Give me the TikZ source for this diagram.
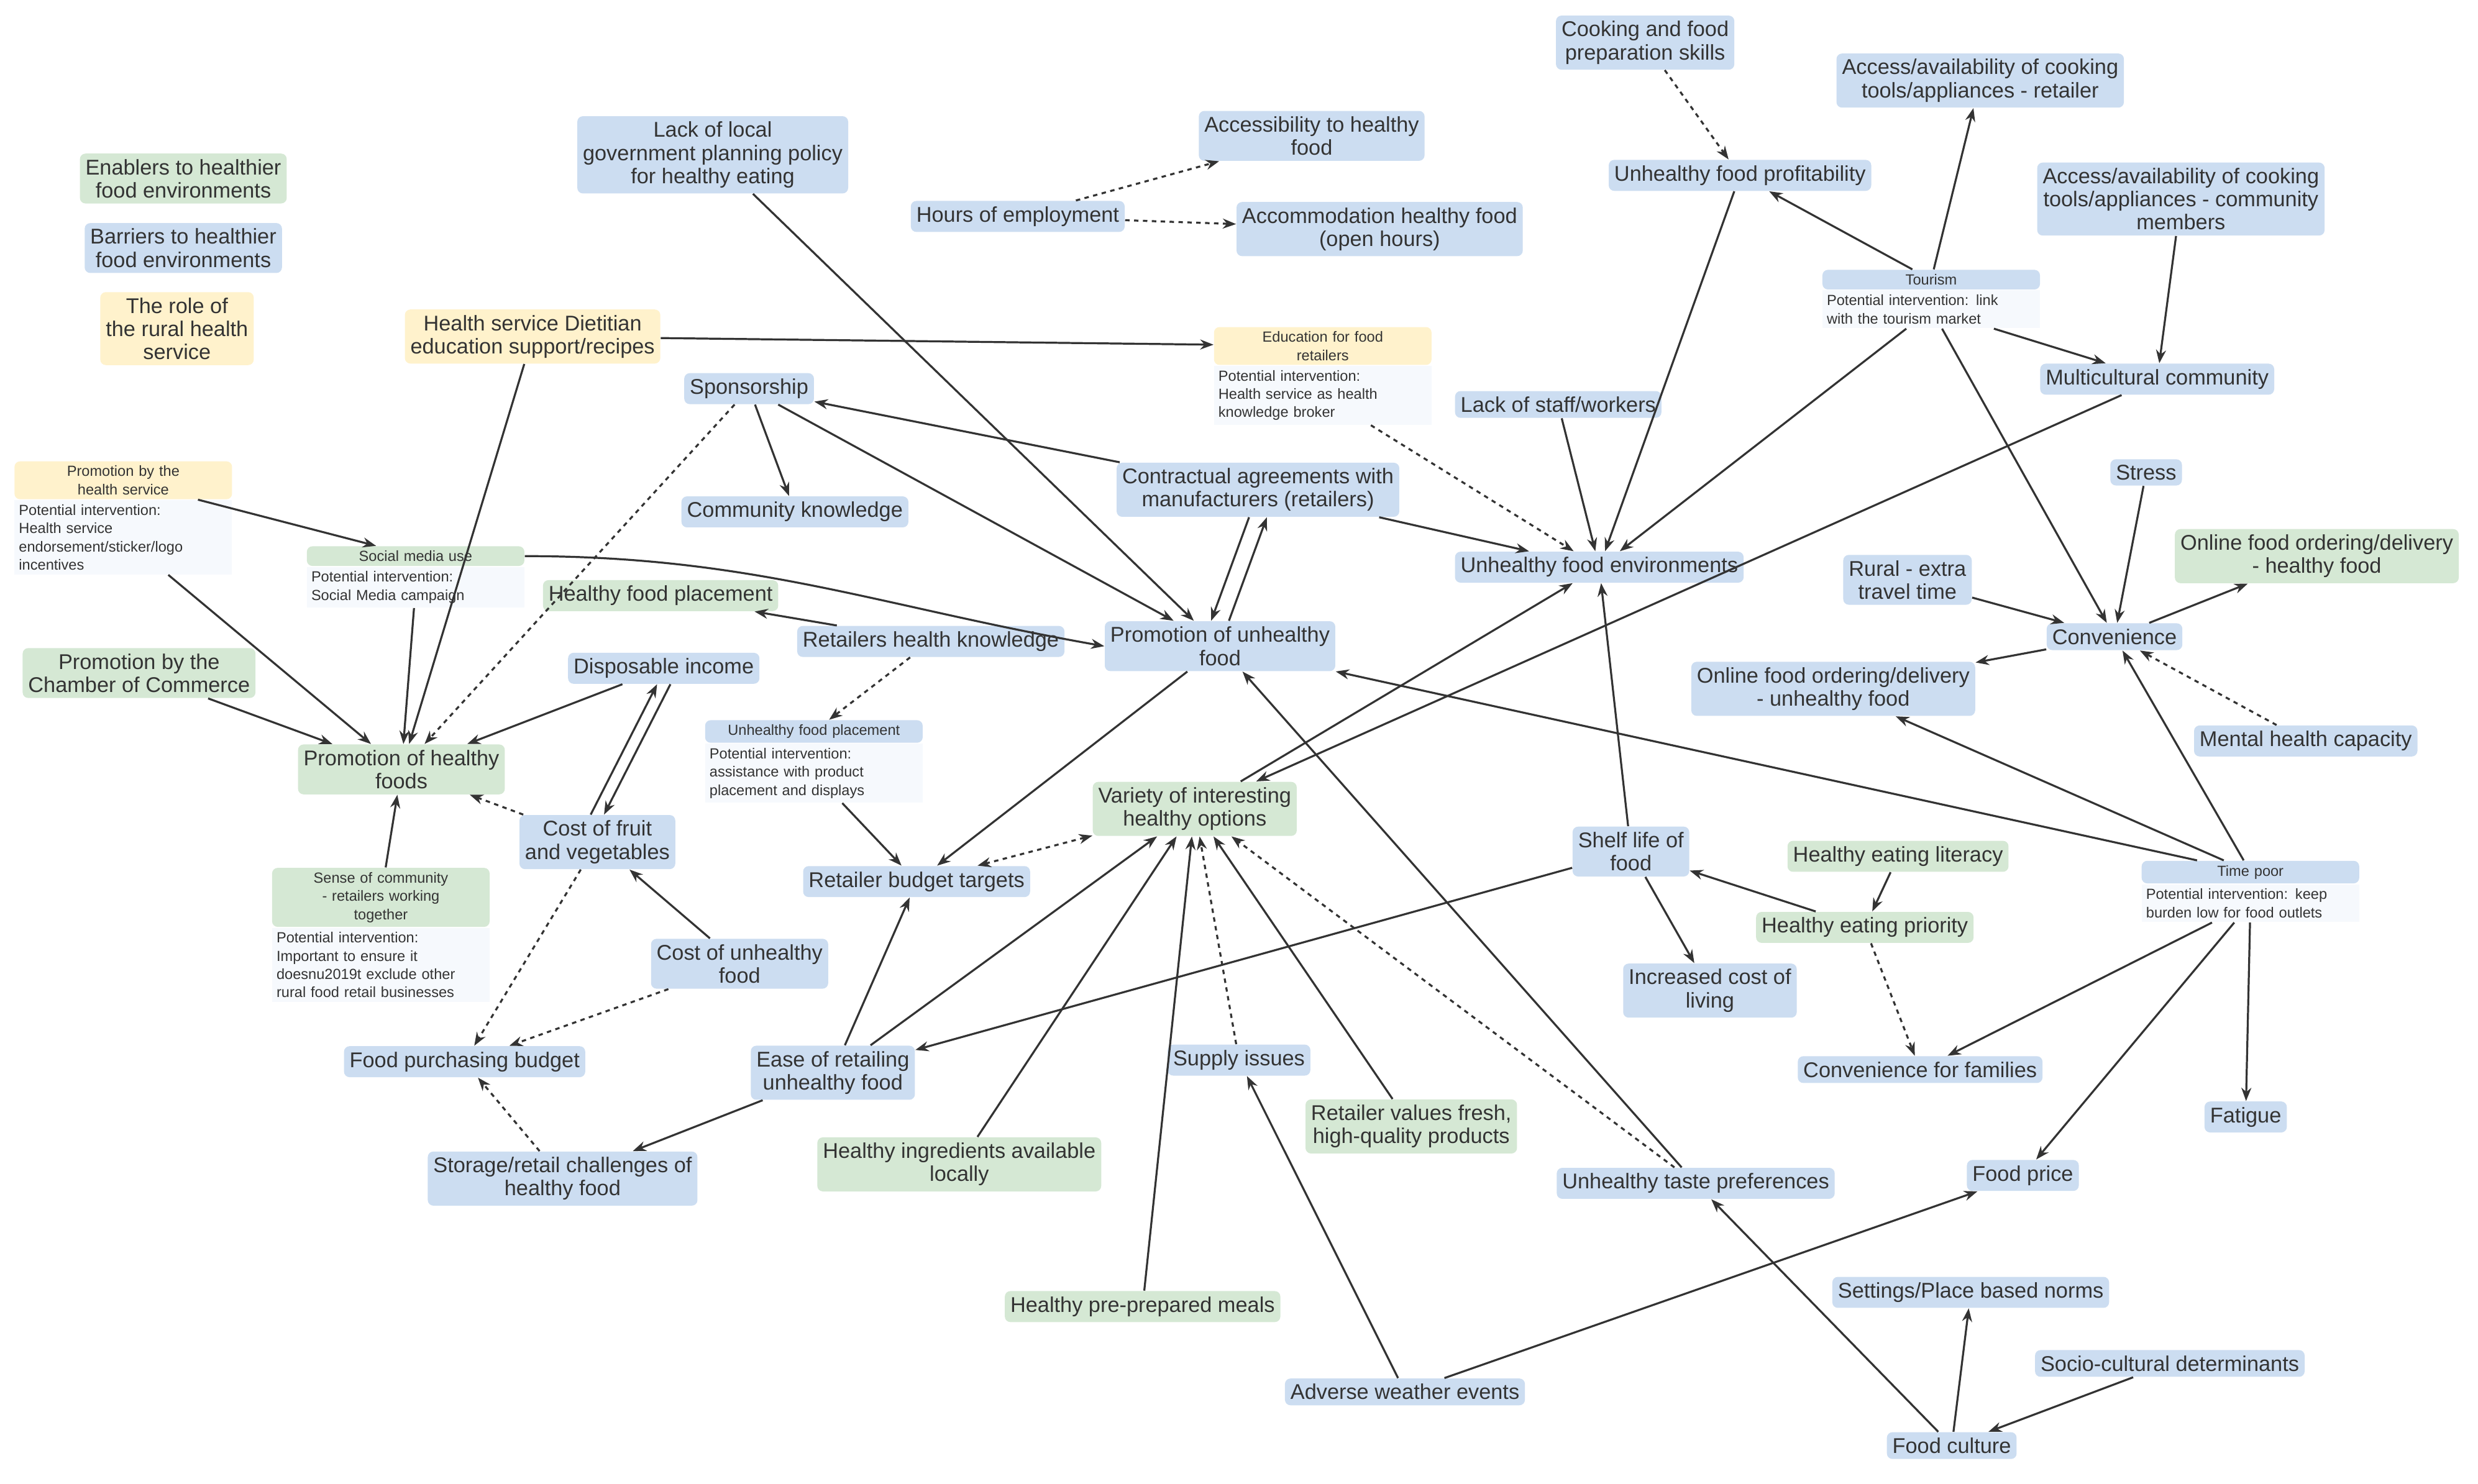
\documentclass[tikz,border=0pt]{standalone}
\usepackage{fontspec}
\setmainfont{Liberation Sans}
\usetikzlibrary{shapes, arrows.meta, positioning}
\definecolor{txt}{HTML}{333333}
\definecolor{bbox}{HTML}{CCDDF1}
\definecolor{gbox}{HTML}{D5E8D4}
\definecolor{ybox}{HTML}{FFF2CC}
\definecolor{nbox}{HTML}{F6F9FD}
\newcommand{\fs}{\fontsize{9.6}{10.4}\selectfont}
\newcommand{\ft}{\fontsize{6.6}{8.2}\selectfont}
\begin{document}
\begin{tikzpicture}[x=0.025cm, y=-0.025cm]
\tikzset{
  box/.style={rounded corners=2.5pt, inner sep=2.5pt, align=center, font=\fs, text=txt},
  barrier/.style={box, fill=bbox},
  enabler/.style={box, fill=gbox},
  health/.style={box, fill=ybox},
  tag/.style={box, font=\ft, text width=3.3cm, inner sep=2pt},
  note/.style={font=\ft, align=left, fill=nbox, text=txt, text width=3.3cm, inner sep=2pt},
  link/.style={-{Stealth[length=6pt,width=4.5pt]}, line width=0.9pt, draw=txt},
  maybe/.style={link, dash pattern=on 2pt off 2pt}
}
\useasboundingbox[fill=white] (0,0) rectangle (1568,939);

% legend
\node[enabler] (enab) at (116,113) {Enablers to healthier\\food environments};
\node[barrier] (barr) at (116,157) {Barriers to healthier\\food environments};
\node[health] (role) at (112,208) {The role of\\the rural health\\service};

% top row
\node[barrier] (lackgov) at (451,98) {Lack of local\\government planning policy\\for healthy eating};
\node[barrier] (access) at (830,86) {Accessibility to healthy\\food};
\node[barrier] (hours) at (644,137) {Hours of employment};
\node[barrier] (accom) at (873,145) {Accommodation healthy food\\(open hours)};
\node[barrier] (cook) at (1041,27) {Cooking and food\\preparation skills};
\node[barrier] (unprof) at (1101,111) {Unhealthy food profitability};
\node[barrier] (toolsr) at (1253,51) {Access/availability of cooking\\tools/appliances - retailer};
\node[barrier] (toolsc) at (1380,126) {Access/availability of cooking\\tools/appliances - community\\members};
\node[barrier, tag] (tour) at (1222,177) {Tourism};
\node[note, below=0pt of tour] (tournote) {Potential intervention: link\\with the tourism market};
\node[barrier] (multi) at (1365,240) {Multicultural community};
\node[health] (hsdiet) at (337,213) {Health service Dietitian\\education support/recipes};
\node[health, tag] (edu) at (837,219) {Education for food\\retailers};
\node[note, below=0pt of edu] (edunote) {Potential intervention:\\Health service as health\\knowledge broker};

% middle
\node[barrier] (spons) at (474,246) {Sponsorship};
\node[barrier] (comm) at (503,324) {Community knowledge};
\node[barrier] (contract) at (796,310) {Contractual agreements with\\manufacturers (retailers)};
\node[barrier] (staff) at (986,256) {Lack of staff/workers};
\node[barrier] (stress) at (1358,299) {Stress};
\node[barrier] (unenv) at (1012,359) {Unhealthy food environments};
\node[barrier] (rural) at (1207,367) {Rural - extra\\travel time};
\node[enabler] (onlh) at (1466,352) {Online food ordering/delivery\\- healthy food};
\node[health, tag] (promhs) at (78,304) {Promotion by the\\health service};
\node[note, below=0pt of promhs] (promhsnote) {Potential intervention:\\Health service\\endorsement/sticker/logo\\incentives};
\node[enabler, tag] (social) at (263,352) {Social media use};
\node[note, below=0pt of social] (socialnote) {Potential intervention:\\Social Media campaign};
\node[enabler] (hplace) at (418,377) {Healthy food placement};
\node[barrier] (promun) at (772,409) {Promotion of unhealthy\\food};
\node[barrier] (rhk) at (589,406) {Retailers health knowledge};
\node[barrier] (disp) at (420,423) {Disposable income};
\node[barrier] (conv) at (1338,403) {Convenience};
\node[barrier] (onlu) at (1160,436) {Online food ordering/delivery\\- unhealthy food};
\node[barrier] (mental) at (1459,469) {Mental health capacity};
\node[enabler] (promcc) at (88,426) {Promotion by the\\Chamber of Commerce};
\node[enabler] (promh) at (254,487) {Promotion of healthy\\foods};
\node[barrier, tag] (unplace) at (515,463) {Unhealthy food placement};
\node[note, below=0pt of unplace] (unplacenote) {Potential intervention:\\assistance with product\\placement and displays};
\node[enabler] (variety) at (756,512) {Variety of interesting\\healthy options};
\node[barrier] (costfv) at (378,533) {Cost of fruit\\and vegetables};
\node[barrier] (shelf) at (1032,539) {Shelf life of\\food};
\node[enabler] (hel) at (1201,542) {Healthy eating literacy};
\node[barrier, tag] (tpoor) at (1424,552) {Time poor};
\node[note, below=0pt of tpoor] (tpoornote) {Potential intervention: keep\\burden low for food outlets};
\node[enabler, tag] (sense) at (241,568) {Sense of community\\- retailers working\\together};
\node[note, below=0pt of sense] (sensenote) {Potential intervention:\\Important to ensure it\\doesnu2019t exclude other\\rural food retail businesses};
\node[barrier] (rbt) at (580,558) {Retailer budget targets};
\node[enabler] (hep) at (1180,587) {Healthy eating priority};
\node[barrier] (costun) at (468,610) {Cost of unhealthy\\food};
\node[barrier] (icl) at (1082,627) {Increased cost of\\living};

% bottom
\node[barrier] (fpb) at (294,672) {Food purchasing budget};
\node[barrier] (ease) at (527,679) {Ease of retailing\\unhealthy food};
\node[barrier] (supply) at (784,671) {Supply issues};
\node[barrier] (cff) at (1215,677) {Convenience for families};
\node[barrier] (fatigue) at (1421,707) {Fatigue};
\node[enabler] (rvf) at (893,713) {Retailer values fresh,\\high-quality products};
\node[barrier] (storage) at (356,746) {Storage/retail challenges of\\healthy food};
\node[enabler] (hial) at (607,737) {Healthy ingredients available\\locally};
\node[barrier] (utp) at (1073,749) {Unhealthy taste preferences};
\node[barrier] (fprice) at (1280,744) {Food price};
\node[barrier] (settings) at (1247,818) {Settings/Place based norms};
\node[enabler] (hpm) at (723,827) {Healthy pre-prepared meals};
\node[barrier] (socio) at (1373,863) {Socio-cultural determinants};
\node[barrier] (adverse) at (889,881) {Adverse weather events};
\node[barrier] (fculture) at (1235,915) {Food culture};

% connectors
\draw[maybe] (hours) -- (access);
\draw[maybe] (hours) -- (accom);
\draw[maybe] (cook) -- (unprof);
\draw[link] (tour) -- (toolsr);
\draw[link] (tour) -- (unprof);
\draw[link] (tournote) -- (multi);
\draw[link] (tournote) -- (unenv);
\draw[link] (tournote) -- (conv);
\draw[link] (toolsc) -- (multi);
\draw[link] (unprof) -- (unenv);
\draw[link] (lackgov) -- (promun);
\draw[link] (hsdiet) -- (edu);
\draw[link] (hsdiet) -- (promh);
\draw[maybe] (edunote) -- (unenv);
\draw[link] (staff) -- (unenv);
\draw[link] (contract) -- (unenv);
\draw[link] (contract) -- (spons);
\draw[link] (spons) -- (comm);
\draw[link] (spons) -- (promun);
\draw[maybe] (spons) -- (promh);
\draw[link] ([xshift=-4pt]contract.south) -- ([xshift=-4pt]promun.north);
\draw[link] ([xshift=4pt]promun.north) -- ([xshift=4pt]contract.south);
\draw[link] (social.east) to[out=0, in=170] (promun.west);
\draw[link] (socialnote) -- (promh);
\draw[link] (promhs) -- (social);
\draw[link] (promhsnote) -- (promh);
\draw[link] (promcc) -- (promh);
\draw[link] (disp) -- (promh);
\draw[link] (rhk) -- (hplace);
\draw[maybe] (rhk) -- (unplace);
\draw[link] (unplacenote) -- (rbt);
\draw[link] (promun) -- (rbt);
\draw[maybe, {Stealth[length=6pt,width=4.5pt]}-{Stealth[length=6pt,width=4.5pt]}] (rbt) -- (variety);
\draw[link] (multi) -- (variety);
\draw[link] (variety) -- (unenv);
\draw[link] (rural) -- (conv);
\draw[link] (stress) -- (conv);
\draw[link] (conv) -- (onlh);
\draw[link] (conv) -- (onlu);
\draw[maybe] (mental) -- (conv);
\draw[link] (tpoor) -- (conv);
\draw[link] (tpoor) -- (onlu);
\draw[link] (tpoor) -- (promun);
\draw[link] (hel) -- (hep);
\draw[link] (hep) -- (shelf);
\draw[maybe] (hep) -- (cff);
\draw[link] (tpoornote) -- (cff);
\draw[link] (tpoornote) -- (fatigue);
\draw[link] (tpoornote) -- (fprice);
\draw[link] (shelf) -- (unenv);
\draw[link] (shelf) -- (icl);
\draw[link] (shelf) -- (ease);
\draw[link] ([xshift=-3pt]costfv.north) -- ([xshift=-3pt]disp.south);
\draw[link] ([xshift=3pt]disp.south) -- ([xshift=3pt]costfv.north);
\draw[maybe] (costfv) -- (promh);
\draw[maybe] (costfv) -- (fpb);
\draw[link] (costun) -- (costfv);
\draw[maybe] (costun) -- (fpb);
\draw[link] (sense) -- (promh);
\draw[maybe] (storage) -- (fpb);
\draw[link] (ease) -- (storage);
\draw[link] (ease) -- (rbt);
\draw[link] (ease) -- (variety);
\draw[link] (hial) -- (variety);
\draw[link] (hpm) -- (variety);
\draw[maybe] (supply) -- (variety);
\draw[link] (rvf) -- (variety);
\draw[maybe] (utp) -- (variety);
\draw[link] (utp) -- (promun);
\draw[link] (adverse) -- (supply);
\draw[link] (adverse) -- (fprice);
\draw[link] (fculture) -- (utp);
\draw[link] (fculture) -- (settings);
\draw[link] (socio) -- (fculture);
\end{tikzpicture}
\end{document}
